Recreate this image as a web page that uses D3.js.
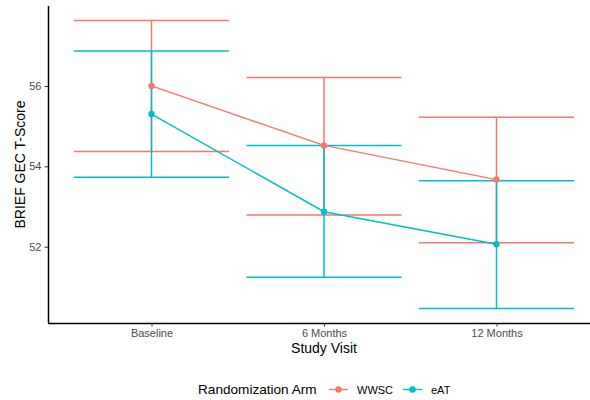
<!DOCTYPE html>
<html>
<head>
<meta charset="utf-8">
<script src="https://cdn.jsdelivr.net/npm/d3@7"></script>
<style>
  body { margin: 0; background: #fff; }
  svg { font-family: "Liberation Sans", Arial, sans-serif; }
</style>
</head>
<body>
<svg id="drawing_region"></svg>
<script>
// data
const visits = ["Baseline", "6 Months", "12 Months"];
const arms = ["WWSC", "eAT"];
const wwscMean = [56.00, 54.52, 53.67];
const wwscLow  = [54.37, 52.79, 52.10];
const wwscHigh = [57.63, 56.21, 55.22];
const eatMean  = [55.30, 52.87, 52.06];
const eatLow   = [53.73, 51.24, 50.46];
const eatHigh  = [56.87, 54.52, 53.64];
const yTicks = [52, 54, 56];

const colors = { WWSC: "#F8766D", eAT: "#00BFC4" };

const series = [
    { arm: "WWSC", mean: wwscMean, low: wwscLow, high: wwscHigh },
    { arm: "eAT",  mean: eatMean,  low: eatLow,  high: eatHigh }
].map(s => ({
    arm: s.arm,
    values: visits.map((v, i) => ({ visit: v, mean: s.mean[i], low: s.low[i], high: s.high[i] }))
}));

const config = {
    width: 590,
    height: 400,
    margin: { top: 6, right: -10, bottom: 77, left: 48 }
};

const svg = d3.select("#drawing_region")
    .attr("width", config.width)
    .attr("height", config.height);

const inner_width = config.width - config.margin.left - config.margin.right;
const inner_height = config.height - config.margin.top - config.margin.bottom;

const chart = svg.append("g")
    .attr("transform", `translate(${config.margin.left}, ${config.margin.top})`);

// x: discrete positions, 0.6 expansion on each side like ggplot
const xscale = d3.scalePoint()
    .domain(visits)
    .range([0, inner_width])
    .padding(0.6);
const halfWidth = 0.45 * xscale.step();

// y: data range + 5% expansion like ggplot
const allLow = d3.min(series, s => d3.min(s.values, d => d.low));
const allHigh = d3.max(series, s => d3.max(s.values, d => d.high));
const pad = (allHigh - allLow) * 0.05;
const yscale = d3.scaleLinear()
    .domain([allLow - pad, allHigh + pad])
    .range([inner_height, 0]);

// error bars
series.forEach(s => {
    const g = chart.append("g").attr("stroke", colors[s.arm]).attr("stroke-width", 1.5)
        .attr("fill", "none");
    g.selectAll(".top").data(s.values).enter().append("line")
        .attr("x1", d => xscale(d.visit) - halfWidth).attr("x2", d => xscale(d.visit) + halfWidth)
        .attr("y1", d => yscale(d.high)).attr("y2", d => yscale(d.high));
    g.selectAll(".bot").data(s.values).enter().append("line")
        .attr("x1", d => xscale(d.visit) - halfWidth).attr("x2", d => xscale(d.visit) + halfWidth)
        .attr("y1", d => yscale(d.low)).attr("y2", d => yscale(d.low));
    g.selectAll(".vert").data(s.values).enter().append("line")
        .attr("x1", d => xscale(d.visit)).attr("x2", d => xscale(d.visit))
        .attr("y1", d => yscale(d.low)).attr("y2", d => yscale(d.high));
});

// lines + points
const line = d3.line().x(d => xscale(d.visit)).y(d => yscale(d.mean));
series.forEach(s => {
    chart.append("path")
        .datum(s.values)
        .attr("d", line)
        .attr("fill", "none")
        .attr("stroke", colors[s.arm])
        .attr("stroke-width", 1.4);
    chart.selectAll(null).data(s.values).enter().append("circle")
        .attr("cx", d => xscale(d.visit))
        .attr("cy", d => yscale(d.mean))
        .attr("r", 3.2)
        .attr("fill", colors[s.arm]);
});

// axes
const xaxis_group = chart.append("g")
    .attr("transform", `translate(0, ${inner_height})`)
    .call(d3.axisBottom(xscale).tickSize(3.5).tickSizeOuter(0).tickPadding(3));
xaxis_group.select(".domain").attr("d", `M0,0.5H${inner_width}`);

const yaxis_group = chart.append("g")
    .call(d3.axisLeft(yscale).tickValues(yTicks).tickSize(3.5).tickSizeOuter(0).tickPadding(3));
yaxis_group.select(".domain").attr("d", `M0.5,0V${inner_height}`);

[xaxis_group, yaxis_group].forEach(g => {
    g.select(".domain").attr("stroke", "#000").attr("stroke-width", 1.5);
    g.selectAll(".tick line").attr("stroke", "#333");
    g.selectAll(".tick text").attr("fill", "#4d4d4d").attr("font-size", "11px")
        .attr("font-family", "'Liberation Sans', Arial, sans-serif");
});

// titles
svg.append("text")
    .attr("x", config.margin.left + inner_width / 2)
    .attr("y", 352.5)
    .attr("text-anchor", "middle")
    .attr("font-size", "14px")
    .attr("fill", "#000")
    .text("Study Visit");

svg.append("text")
    .attr("transform", `translate(24.5, ${config.margin.top + inner_height / 2}) rotate(-90)`)
    .attr("text-anchor", "middle")
    .attr("font-size", "14px")
    .attr("fill", "#000")
    .text("BRIEF GEC T-Score");

// legend
const legend = svg.append("g").attr("transform", "translate(198, 389.5)");
legend.append("text")
    .attr("x", 0).attr("y", 4.8)
    .attr("font-size", "13.6px")
    .attr("fill", "#000")
    .text("Randomization Arm");

const keyX = [131, 205];
arms.forEach((a, i) => {
    const k = legend.append("g").attr("transform", `translate(${keyX[i]}, 0)`);
    k.append("line").attr("x1", 0).attr("x2", 19).attr("y1", 0).attr("y2", 0)
        .attr("stroke", colors[a]).attr("stroke-width", 1.4);
    k.append("circle").attr("cx", 9.5).attr("cy", 0).attr("r", 3.2).attr("fill", colors[a]);
    k.append("text").attr("x", 28).attr("y", 4)
        .attr("font-size", "11px").attr("fill", "#000")
        .text(a);
});
</script>
</body>
</html>
